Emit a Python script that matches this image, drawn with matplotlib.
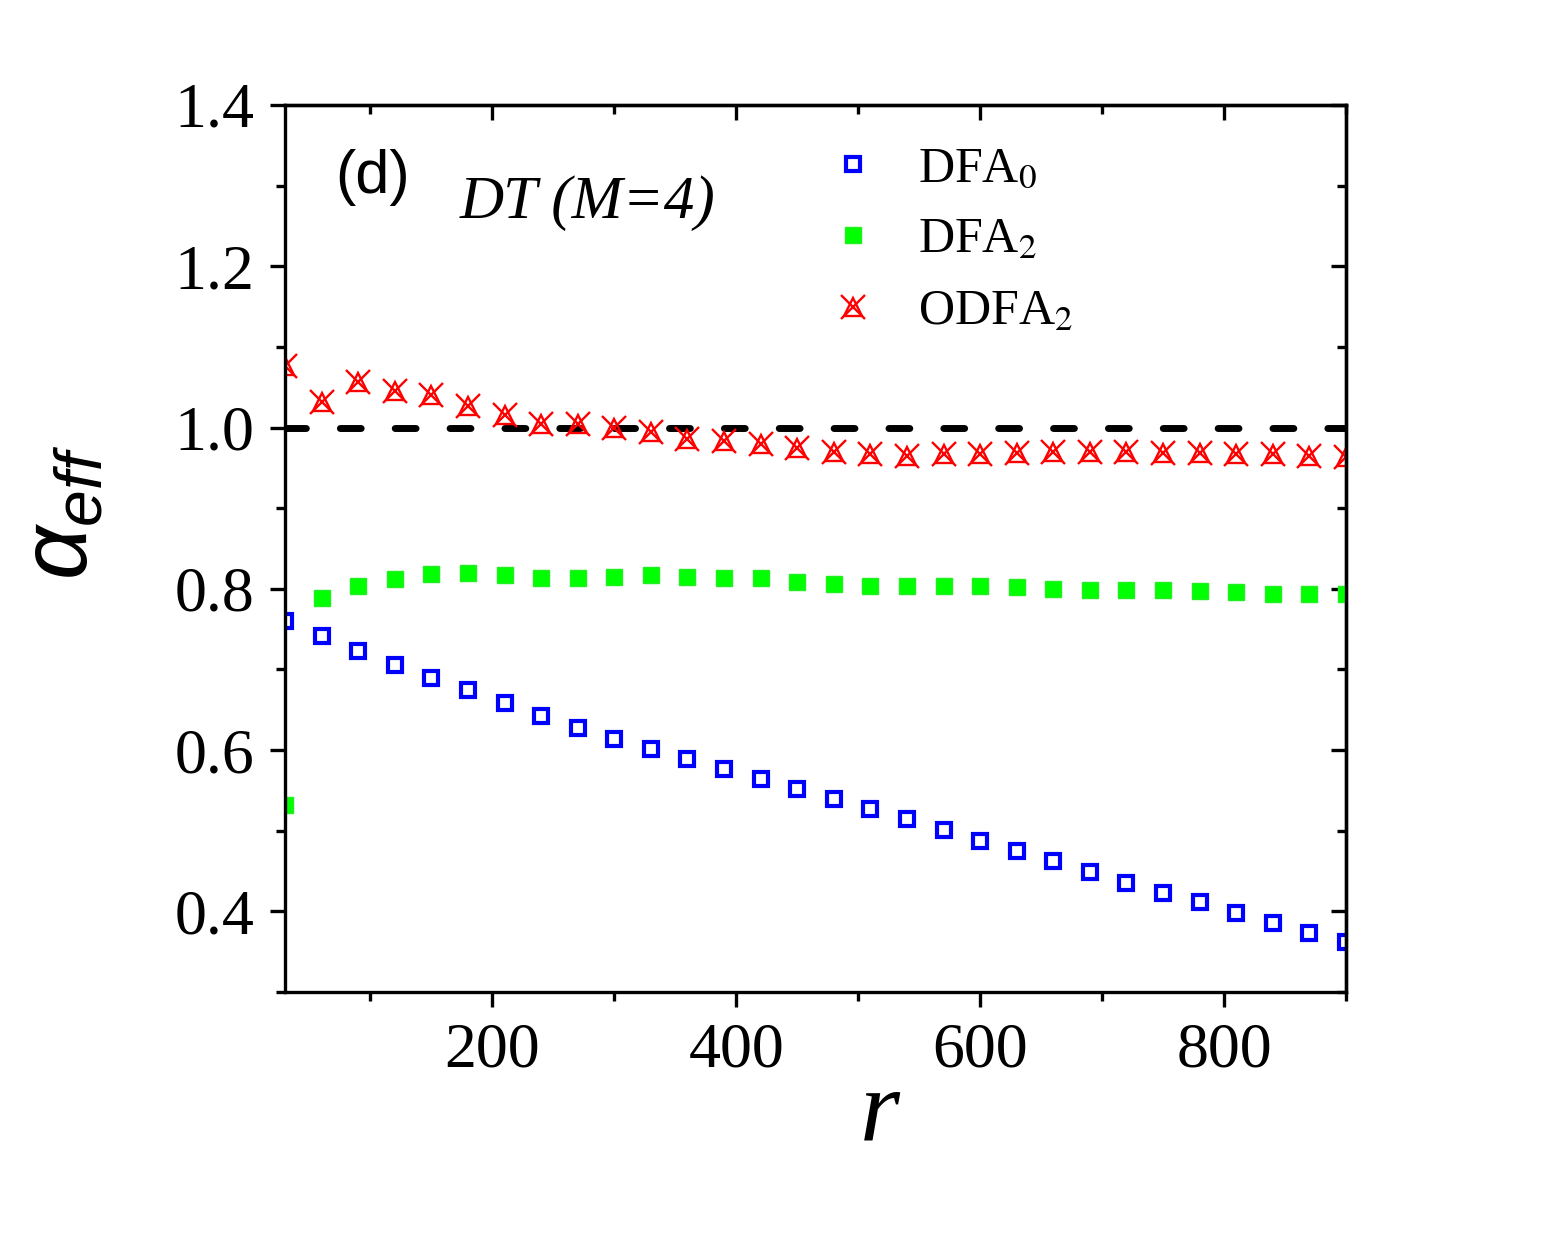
import matplotlib
matplotlib.use("Agg")
import matplotlib.pyplot as plt
from matplotlib.ticker import MultipleLocator
from matplotlib.legend_handler import HandlerTuple

plt.rcParams['mathtext.fontset'] = 'custom'
plt.rcParams['mathtext.it'] = 'Liberation Sans:italic'
plt.rcParams['mathtext.rm'] = 'Liberation Serif'

r = [30, 60, 90, 120, 150, 180, 210, 240, 270, 300, 330, 360, 390, 420, 450,
     480, 510, 540, 570, 600, 630, 660, 690, 720, 750, 780, 810, 840, 870, 900]
dfa0 = [0.760, 0.741, 0.723, 0.705, 0.689, 0.674, 0.658, 0.642, 0.627, 0.614,
        0.601, 0.589, 0.576, 0.564, 0.552, 0.539, 0.527, 0.515, 0.501, 0.487,
        0.475, 0.463, 0.449, 0.435, 0.423, 0.411, 0.398, 0.386, 0.373, 0.362]
dfa2 = [0.532, 0.789, 0.804, 0.812, 0.818, 0.820, 0.817, 0.814, 0.814, 0.815,
        0.817, 0.815, 0.814, 0.813, 0.809, 0.806, 0.803, 0.803, 0.803, 0.803,
        0.802, 0.800, 0.799, 0.799, 0.798, 0.797, 0.796, 0.794, 0.793, 0.793]
odfa2 = [1.076, 1.032, 1.057, 1.045, 1.040, 1.027, 1.015, 1.005, 1.004, 0.999,
         0.994, 0.986, 0.983, 0.979, 0.975, 0.970, 0.967, 0.965, 0.967, 0.967,
         0.969, 0.970, 0.970, 0.970, 0.969, 0.968, 0.967, 0.967, 0.965, 0.964]
ref_level = 1.0
labels = ['DFA$_0$', 'DFA$_2$', 'ODFA$_2$']

fig = plt.figure(figsize=(15.57, 12.38), dpi=100)
ax = fig.add_axes([285/1557, 1-992/1238, (1346-285)/1557, (992-105)/1238])

ax.plot([r[0], r[-1]], [ref_level, ref_level], color='black', lw=5,
        linestyle=(0, (3.0, 4.9)), dash_capstyle='round', zorder=1)

h0, = ax.plot(r, dfa0, linestyle='none', marker='s', markersize=9.5,
              markerfacecolor='none', markeredgecolor='#0000ff', markeredgewidth=3.0)
h1, = ax.plot(r, dfa2, linestyle='none', marker='s', markersize=11.5,
              markerfacecolor='#00ff00', markeredgecolor='#22ee22', markeredgewidth=1.0)
h2a, = ax.plot(r, odfa2, linestyle='none', marker='x', markersize=17,
               markeredgecolor='#ff0000', markeredgewidth=1.7)
h2b, = ax.plot(r, odfa2, linestyle='none', marker='^', markersize=13,
               markerfacecolor='none', markeredgecolor='#ff0000', markeredgewidth=1.7)

ax.set_xlim(30, 900)
ax.set_ylim(0.3, 1.4)
ax.xaxis.set_major_locator(MultipleLocator(200))
ax.xaxis.set_minor_locator(MultipleLocator(100))
ax.yaxis.set_major_locator(MultipleLocator(0.2))
ax.yaxis.set_minor_locator(MultipleLocator(0.1))
ax.yaxis.set_major_formatter(matplotlib.ticker.FormatStrFormatter('%.1f'))

for s in ax.spines.values():
    s.set_linewidth(2.4)
ax.tick_params(which='both', direction='out', width=2.4, bottom=True, left=True,
               top=False, right=False)
ax.tick_params(which='major', length=11)
ax.tick_params(which='minor', length=6.5)
ax.tick_params(axis='both', labelsize=46, pad=11)
for lab in ax.get_xticklabels() + ax.get_yticklabels():
    lab.set_fontfamily('Liberation Serif')

# inward ticks on top/right
axt = ax.secondary_xaxis('top')
axt.xaxis.set_major_locator(MultipleLocator(200))
axt.xaxis.set_minor_locator(MultipleLocator(100))
axt.tick_params(which='both', direction='in', width=2.4, labeltop=False)
axt.tick_params(which='major', length=11)
axt.tick_params(which='minor', length=6.5)
axt.spines['top'].set_linewidth(2.4)
axr = ax.secondary_yaxis('right')
axr.yaxis.set_major_locator(MultipleLocator(0.2))
axr.yaxis.set_minor_locator(MultipleLocator(0.1))
axr.tick_params(which='both', direction='in', width=2.4, labelright=False)
axr.tick_params(which='major', length=11)
axr.tick_params(which='minor', length=6.5)
axr.spines['right'].set_linewidth(2.4)

leg = ax.legend([h0, h1, (h2a, h2b)], labels,
                handler_map={tuple: HandlerTuple(ndivide=1, pad=0)},
                loc='upper left', bbox_to_anchor=(0.472, 1.005), frameon=False,
                prop={'family': 'Liberation Serif', 'size': 36, 'math_fontfamily': 'stix'},
                handlelength=0.9, handletextpad=0.85, labelspacing=0.5)

ax.text(335/1557, 1-178/1238, '(d)', transform=fig.transFigure, fontsize=44,
        fontfamily='Liberation Sans', va='center', ha='left')
ax.text(460/1557, 1-203/1238, 'DT (M=4)', transform=fig.transFigure, fontsize=44,
        fontfamily='Liberation Serif', style='italic', va='center', ha='left')

fig.text(880/1557, 1-1115/1238, 'r', fontsize=74, fontfamily='Liberation Serif',
         style='italic', ha='center', va='center')
fig.text(62/1557, 1-512/1238, r'$\alpha_{eff}$', fontsize=68, rotation=90,
         ha='center', va='center', math_fontfamily='custom')

fig.savefig('out.png', dpi=100)
